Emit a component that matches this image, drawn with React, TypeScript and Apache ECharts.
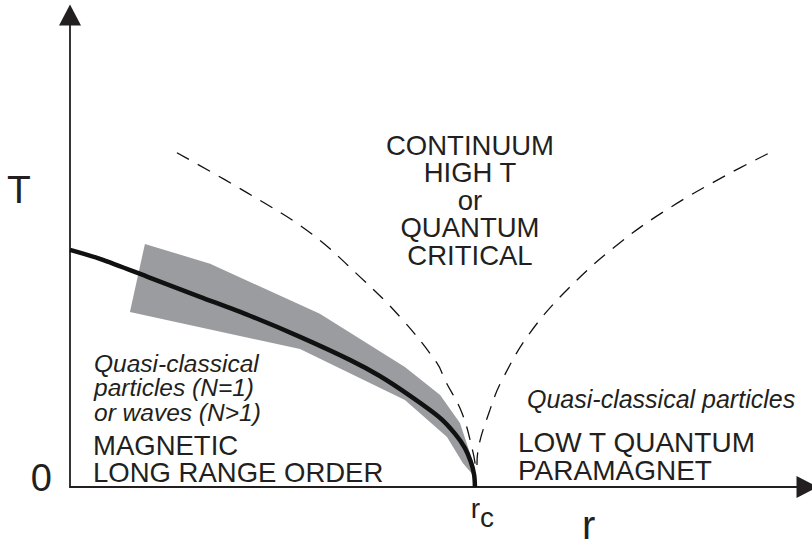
import React, { useEffect, useRef } from "react";
import * as echarts from "echarts";

// Critical line T_c(r) (solid), in units where r_c = 1
const criticalR = [0, 0.074, 0.198, 0.321, 0.444, 0.568, 0.691, 0.765, 0.84, 0.914, 0.951, 0.975, 0.99, 0.998, 1.0];
const criticalT = [1.0, 0.962, 0.882, 0.802, 0.722, 0.633, 0.536, 0.468, 0.384, 0.291, 0.224, 0.165, 0.105, 0.051, 0];

// Shaded fluctuation region around the critical line
const bandUpperR = [0.185, 0.346, 0.617, 0.827, 0.914, 0.963, 1.0];
const bandUpperT = [1.025, 0.941, 0.73, 0.506, 0.388, 0.27, 0.08];
const bandLowerR = [0.993, 0.97, 0.931, 0.827, 0.568, 0.148];
const bandLowerT = [0.055, 0.101, 0.211, 0.367, 0.582, 0.738];

// Crossover lines (dashed)
const crossLeftR = [0.264, 0.437, 0.593, 0.716, 0.815, 0.906, 0.926, 0.968, 0.995, 1.002];
const crossLeftT = [1.409, 1.241, 1.072, 0.886, 0.717, 0.523, 0.451, 0.312, 0.148, 0.08];
const crossRightR = [1.723, 1.622, 1.481, 1.358, 1.235, 1.136, 1.067, 1.037, 1.007, 1.005];
const crossRightT = [1.405, 1.316, 1.177, 1.03, 0.844, 0.65, 0.451, 0.325, 0.148, 0.093];

// Axis extents and tick labels
const rMax = 1.82;
const tMax = 1.99;
const rTickLabel = { base: "r", sub: "c" };
const tTickLabel = "0";
const tAxisName = "T";
const rAxisName = "r";

// Region labels
const highTLabel = ["CONTINUUM", "HIGH T", "or", "QUANTUM", "CRITICAL"];
const orderedItalic = ["Quasi-classical", "particles (N=1)", "or waves (N>1)"];
const orderedLabel = ["MAGNETIC", "LONG RANGE ORDER"];
const paraItalic = ["Quasi-classical particles"];
const paraLabel = ["LOW T QUANTUM", "PARAMAGNET"];

const FONT = "'Liberation Sans', Arial, Helvetica, sans-serif";
const INK = "#231f20";

export default function App() {
  const ref = useRef<HTMLDivElement>(null);

  useEffect(() => {
    if (!ref.current) return;
    const chart = echarts.init(ref.current, null, { renderer: "svg" });

    const zip = (xs: number[], ys: number[]) => xs.map((x, i) => [x, ys[i]]);
    const bandR = [...bandUpperR, ...bandLowerR];
    const bandT = [...bandUpperT, ...bandLowerT];

    const textStyle = (extra: any) => ({
      fill: INK,
      fontFamily: FONT,
      ...extra,
    });

    chart.setOption({
      animation: false,
      backgroundColor: "#ffffff",
      grid: { left: 70, right: 5, top: 15, bottom: 60, containLabel: false },
      xAxis: {
        type: "value",
        min: 0,
        max: rMax,
        interval: 1,
        axisLine: {
          show: true,
          symbol: ["none", "triangle"],
          symbolSize: [22, 21],
          lineStyle: { color: INK, width: 1.8 },
        },
        axisTick: { show: false },
        splitLine: { show: false },
        axisLabel: {
          margin: 7,
          showMaxLabel: false,
          padding: [0, 0, 0, 15],
          formatter: (v: number) => (v === 1 ? `{r|${rTickLabel.base}}{c|${rTickLabel.sub}}` : ""),
          rich: {
            r: { fontSize: 28, lineHeight: 28, fontFamily: FONT, color: INK, verticalAlign: "top" },
            c: { fontSize: 28, lineHeight: 28, fontFamily: FONT, color: INK, verticalAlign: "top", padding: [9, 0, 0, 0] },
          },
        },
      },
      yAxis: {
        type: "value",
        min: 0,
        max: tMax,
        interval: 1,
        axisLine: {
          show: true,
          symbol: ["none", "triangle"],
          symbolSize: [22, 21],
          lineStyle: { color: INK, width: 1.8 },
        },
        axisTick: { show: false },
        splitLine: { show: false },
        axisLabel: {
          margin: 18,
          showMaxLabel: false,
          formatter: (v: number) => (v === 0 ? `{z|${tTickLabel}}` : ""),
          rich: {
            z: { fontSize: 38, fontFamily: FONT, color: INK, padding: [0, 0, 18, 0] },
          },
        },
      },
      series: [
        {
          type: "custom",
          silent: true,
          z: 1,
          data: [[bandR[0], bandT[0]]],
          renderItem: (_params: any, api: any) => {
            const points = bandR.map((r, i) => api.coord([r, bandT[i]]));
            return {
              type: "polygon",
              shape: { points },
              style: { fill: "#9b9c9f", stroke: "none" },
            };
          },
        },
        {
          type: "line",
          silent: true,
          z: 2,
          data: zip(crossLeftR, crossLeftT),
          smooth: 0.4,
          showSymbol: false,
          lineStyle: { color: "#111", width: 1.3, type: [14, 10] },
        },
        {
          type: "line",
          silent: true,
          z: 2,
          data: zip(crossRightR, crossRightT),
          smooth: 0.4,
          showSymbol: false,
          lineStyle: { color: "#111", width: 1.3, type: [14, 10] },
        },
        {
          type: "line",
          silent: true,
          z: 3,
          data: zip(criticalR, criticalT),
          smooth: 0.3,
          showSymbol: false,
          lineStyle: { color: "#111", width: 4.5 },
        },
      ],
      graphic: [
        {
          type: "text",
          x: 7,
          y: 189.5,
          style: textStyle({ text: tAxisName, fontSize: 39, align: "left", verticalAlign: "middle" }),
        },
        {
          type: "text",
          x: 582,
          y: 525,
          style: textStyle({ text: rAxisName, fontSize: 40, align: "left", verticalAlign: "middle" }),
        },
        {
          type: "text",
          x: 470,
          y: 131.7,
          style: textStyle({
            text: highTLabel.join("\n"),
            fontSize: 27.5,
            lineHeight: 27.5,
            align: "center",
            verticalAlign: "top",
          }),
        },
        {
          type: "text",
          x: 94,
          y: 351.2,
          style: textStyle({
            text: orderedItalic.join("\n"),
            fontSize: 24.5,
            fontStyle: "italic",
            lineHeight: 24.5,
            align: "left",
            verticalAlign: "top",
          }),
        },
        {
          type: "text",
          x: 93,
          y: 431.7,
          style: textStyle({
            text: orderedLabel.join("\n"),
            fontSize: 27.5,
            lineHeight: 27.5,
            align: "left",
            verticalAlign: "top",
          }),
        },
        {
          type: "text",
          x: 527,
          y: 399.3,
          style: textStyle({
            text: paraItalic.join("\n"),
            fontSize: 25,
            fontStyle: "italic",
            align: "left",
            verticalAlign: "middle",
          }),
        },
        {
          type: "text",
          x: 518,
          y: 428.3,
          style: textStyle({
            text: paraLabel.join("\n"),
            fontSize: 28,
            lineHeight: 28,
            align: "left",
            verticalAlign: "top",
          }),
        },
      ],
    });

    return () => {
      chart.dispose();
    };
  }, []);

  return (
    <div
      ref={ref}
      style={{ position: "fixed", left: 0, top: 0, width: 812, height: 547, background: "#fff" }}
    />
  );
}
